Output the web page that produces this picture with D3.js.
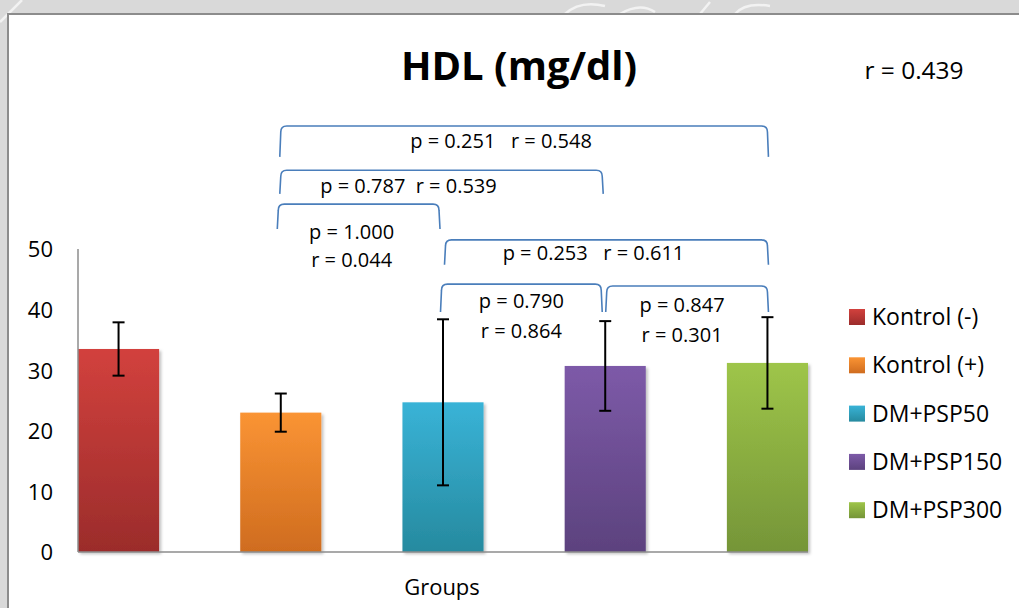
<!DOCTYPE html>
<html><head><meta charset="utf-8">
<script src="https://cdn.jsdelivr.net/npm/d3@7"></script>
<style>
body{margin:0;background:#d9d9d9;overflow:hidden;}
text{font-family:"Open Sans","Noto Sans",sans-serif;fill:#000;white-space:pre;}
</style>
</head><body>
<svg id="c" width="1019" height="608"></svg>
<script>
// ---- data ----
const categories = ["Kontrol (-)", "Kontrol (+)", "DM+PSP50", "DM+PSP150", "DM+PSP300"];
const means = [33.5, 23.0, 24.7, 30.7, 31.2];
const errors = [4.4, 3.15, 13.7, 7.4, 7.55];
const yTicks = [0, 10, 20, 30, 40, 50];
const comparisonFrom = [1, 1, 1, 2, 2, 3];
const comparisonTo = [4, 3, 2, 4, 3, 4];
const comparisonLabels = [
  ["p = 0.251   r = 0.548"],
  ["p = 0.787  r = 0.539"],
  ["p = 1.000", "r = 0.044"],
  ["p = 0.253   r = 0.611"],
  ["p = 0.790", "r = 0.864"],
  ["p = 0.847", "r = 0.301"]
];
const overallR = "r = 0.439";
const titleText = "HDL (mg/dl)";
const xTitle = "Groups";

// ---- styles / layout ----
const colors = [
  ["#d2413d", "#9b2c2b"],
  ["#fa9434", "#cf6c1f"],
  ["#39b3d7", "#268a9f"],
  ["#7d5aa8", "#5c427e"],
  ["#9ec549", "#759538"]
];
// bracket geometry: top level and leg end in y-data units, pixel nudges
const bracketLayout = [
  {top: 70.3, leg: 65.2, dl: 0,    dr: 0,  ldx: -23, lby: 22, lh: 30},
  {top: 63.0, leg: 59.1, dl: 0,    dr: -3, ldx: -33, lby: 23, lh: 30},
  {top: 57.4, leg: 53.3, dl: -2.5, dr: -4, ldx: -7,  lby: 35, lh: 28},
  {top: 51.5, leg: 47.4, dl: 2.5,  dr: 0,  ldx: -13, lby: 20, lh: 30},
  {top: 44.2, leg: 39.6, dl: -1.5, dr: -4, ldx: 0,   lby: 24, lh: 30},
  {top: 43.9, leg: 39.6, dl: 1.5,  dr: 0,  ldx: -5,  lby: 26, lh: 30}
];

const svg = d3.select("#c");
const defs = svg.append("defs");

// background + chart box
svg.append("rect").attr("width", 1019).attr("height", 608).attr("fill", "#d9d9d9");
// faint watermark shapes
const wm = svg.append("g").attr("fill", "none").attr("stroke", "#f2f2f2").attr("stroke-width", 2.5);
wm.append("path").attr("d", "M0,22 L22,0");
wm.append("path").attr("d", "M565,14 Q580,0 605,6 M620,14 Q640,2 655,12 M700,14 L710,2 M735,14 Q745,2 770,6");
svg.append("rect").attr("x", 8).attr("y", 14).attr("width", 1030).attr("height", 620)
  .attr("fill", "#ffffff").attr("stroke", "#8c8c8c").attr("stroke-width", 2);

colors.forEach((c, i) => {
  const g = defs.append("linearGradient").attr("id", "g" + i)
    .attr("x1", 0).attr("y1", 0).attr("x2", 0).attr("y2", 1);
  g.append("stop").attr("offset", "0%").attr("stop-color", c[0]);
  g.append("stop").attr("offset", "100%").attr("stop-color", c[1]);
});
const f = defs.append("filter").attr("id", "sh").attr("x", "-10%").attr("y", "-10%").attr("width", "130%").attr("height", "130%");
f.append("feDropShadow").attr("dx", 2).attr("dy", 2).attr("stdDeviation", 1.5)
  .attr("flood-color", "#000").attr("flood-opacity", 0.25);

// scales
const x = d3.scaleBand().domain(categories).range([78, 808]).paddingInner(0.5).paddingOuter(0);
const y = d3.scaleLinear().domain([0, 50]).range([552, 249]);

// y axis labels
const yAxis = d3.axisLeft(y).tickValues(yTicks).tickSize(0).tickPadding(25);
const ya = svg.append("g").attr("transform", "translate(78,0)").call(yAxis);
ya.select(".domain").remove();
ya.selectAll("text").attr("font-size", 22).attr("font-family", "'Open Sans',sans-serif")
  .attr("fill", "#000").attr("dy", "0.36em");

// bars
svg.append("g").selectAll("rect").data(categories).join("rect")
  .attr("x", d => x(d))
  .attr("y", (d, i) => y(means[i]))
  .attr("width", x.bandwidth())
  .attr("height", (d, i) => y(0) - y(means[i]))
  .attr("fill", (d, i) => `url(#g${i})`)
  .attr("filter", "url(#sh)");

// axis lines
svg.append("line").attr("x1", 78).attr("x2", 78).attr("y1", y(50)).attr("y2", y(0))
  .attr("stroke", "#8c8c8c").attr("stroke-width", 1.5);
const xAxis = d3.axisBottom(x).tickSize(0).tickFormat("");
const xa = svg.append("g").attr("transform", `translate(0,${y(0)})`).call(xAxis);
xa.select(".domain").attr("stroke", "#8c8c8c").attr("stroke-width", 1.5).attr("d", `M78,0H808`);

// error bars
const eb = svg.append("g").attr("stroke", "#000").attr("stroke-width", 2);
categories.forEach((c, i) => {
  const cx = x(c) + x.bandwidth() / 2;
  const t = y(means[i] + errors[i]), b = y(means[i] - errors[i]);
  eb.append("line").attr("x1", cx).attr("x2", cx).attr("y1", t).attr("y2", b);
  eb.append("line").attr("x1", cx - 6).attr("x2", cx + 6).attr("y1", t).attr("y2", t);
  eb.append("line").attr("x1", cx - 6).attr("x2", cx + 6).attr("y1", b).attr("y2", b);
});

// brackets
const br = svg.append("g");
comparisonFrom.forEach((fi, k) => {
  const L = bracketLayout[k];
  const x1 = x(categories[fi]) + x.bandwidth() / 2 + L.dl;
  const x2 = x(categories[comparisonTo[k]]) + x.bandwidth() / 2 + L.dr;
  const yt = y(L.top), yb = y(L.leg), r = 6;
  br.append("path")
    .attr("d", `M${x1 - 1},${yb} L${x1},${yt + r} Q${x1},${yt} ${x1 + r},${yt} L${x2 - r},${yt} Q${x2},${yt} ${x2},${yt + r} L${x2 + 1},${yb}`)
    .attr("fill", "none").attr("stroke", "#4a7ebb").attr("stroke-width", 1.6);
  const cx = (x1 + x2) / 2 + L.ldx;
  comparisonLabels[k].forEach((s, j) => {
    br.append("text").attr("x", cx).attr("y", yt + L.lby + j * L.lh)
      .attr("text-anchor", "middle").attr("font-size", 20).text(s);
  });
});

// title and r
svg.append("text").attr("x", 519).attr("y", 80).attr("text-anchor", "middle")
  .attr("font-size", 40).attr("font-weight", "bold").text(titleText);
svg.append("text").attr("x", 914).attr("y", 79).attr("text-anchor", "middle")
  .attr("font-size", 24.5).text(overallR);

// x title
svg.append("text").attr("x", 442).attr("y", 595).attr("text-anchor", "middle")
  .attr("font-size", 22).text(xTitle);

// legend
const lg = svg.append("g").selectAll("g").data(categories).join("g")
  .attr("transform", (d, i) => `translate(849,${309 + i * 48.3})`);
lg.append("rect").attr("width", 16).attr("height", 16).attr("fill", (d, i) => `url(#g${i})`);
lg.append("text").attr("x", 23).attr("y", 16).attr("font-size", 23).text(d => d);
</script>
</body></html>
